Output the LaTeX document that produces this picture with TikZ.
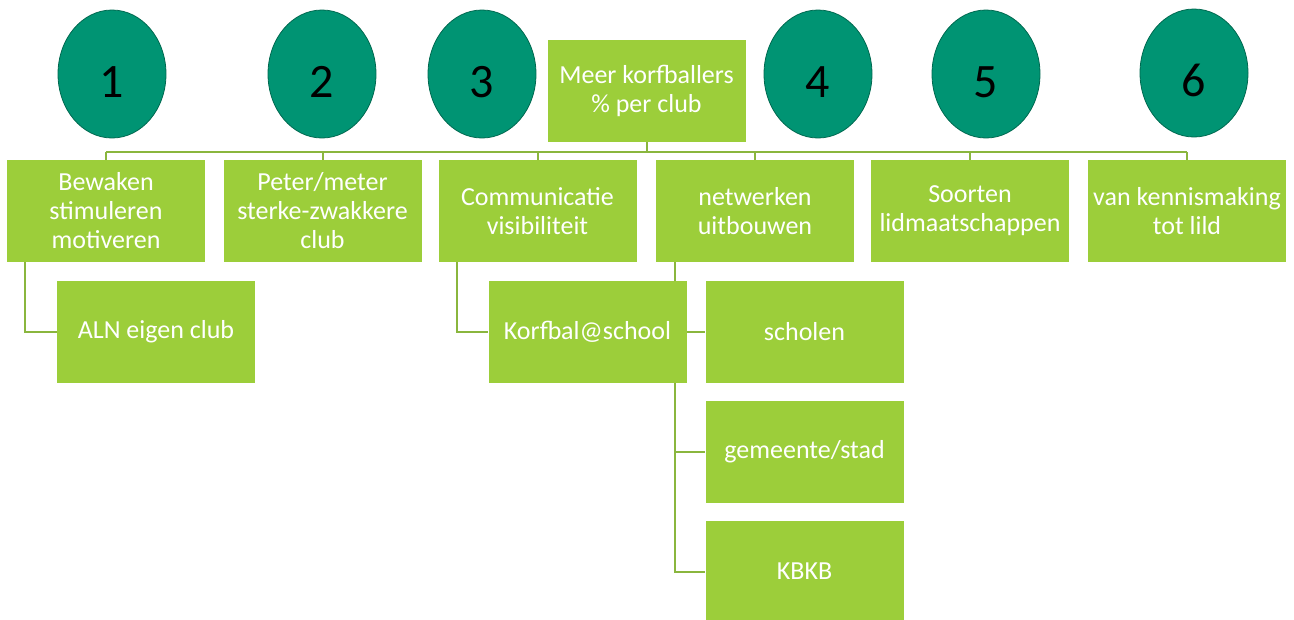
\documentclass[tikz,border=0pt]{standalone}
\usepackage{fontspec}
\setmainfont{Carlito}
\usetikzlibrary{shapes.geometric,backgrounds}
\definecolor{boxgreen}{RGB}{156,206,58}
\definecolor{circgreen}{RGB}{0,148,115}
\definecolor{circedge}{RGB}{0,105,80}
\definecolor{linegreen}{RGB}{138,182,62}
\newcommand{\numtxt}[1]{\raisebox{-23pt}[0pt][0pt]{#1}}
\begin{document}
\begin{tikzpicture}[x=1pt,y=-1pt,
  box/.style={rectangle, fill=boxgreen, minimum width=198pt, minimum height=102pt,
    inner sep=1pt, text=white, align=center, font=\fontsize{26}{29}\selectfont},
  num/.style={ellipse, fill=circgreen, draw=circedge, line width=0.8pt,
    minimum width=108pt, minimum height=128pt, inner sep=0pt,
    font=\fontsize{48}{50}\selectfont, text=black},
  conn/.style={draw=linegreen, line width=2pt}
]
\useasboundingbox (0,0) rectangle (1294,619);

% numbered circles
\node[num] (c1) at (112,74) {\numtxt{1}};
\node[num] (c2) at (322,74) {\numtxt{2}};
\node[num] (c3) at (482,74) {\numtxt{3}};
\node[num] (c4) at (818,74) {\numtxt{4}};
\node[num] (c5) at (986,74) {\numtxt{5}};
\node[num] (c6) at (1194,73) {\numtxt{6}};

% root
\node[box] (root) at (646.5,91) {Meer korfballers\\\% per club};

% level 1
\node[box] (b1) at (106,211) {Bewaken\\stimuleren\\motiveren};
\node[box] (b2) at (322.5,211) {Peter/meter\\sterke-zwakkere\\club};
\node[box] (b3) at (537.5,211) {Communicatie\\visibiliteit};
\node[box] (b4) at (755,211) {netwerken\\uitbouwen};
\node[box] (b5) at (970,211) {Soorten\\lidmaatschappen};
\node[box] (b6) at (1187,211) {van kennismaking\\tot lild};

% level 2
\node[box] (aln) at (156,331.5) {ALN eigen club};
\node[box] (korf) at (587.5,331.5) {Korfbal@school};
\node[box] (sch) at (804.5,331.5) {scholen};
\node[box] (gem) at (804.5,451.5) {gemeente/stad};
\node[box] (kbkb) at (804.5,571.5) {KBKB};

\coordinate (bus) at (646.5,152);

\begin{scope}[on background layer]
  \draw[conn] (root.south) -- (root.south |- bus);
  \draw[conn] (b1.north |- bus) -- (b6.north |- bus);
  \foreach \b in {b1,b2,b3,b4,b5,b6}
    \draw[conn] (\b.north) -- (\b.north |- bus);
  \draw[conn] ([xshift=18pt]b1.south west) |- (aln.west);
  \draw[conn] ([xshift=19pt]b3.south west) |- (korf.west);
  \draw[conn] ([xshift=19pt]b4.south west) |- (sch.west);
  \draw[conn] ([xshift=19pt]b4.south west) |- (gem.west);
  \draw[conn] ([xshift=19pt]b4.south west) |- (kbkb.west);
\end{scope}
\end{tikzpicture}
\end{document}
